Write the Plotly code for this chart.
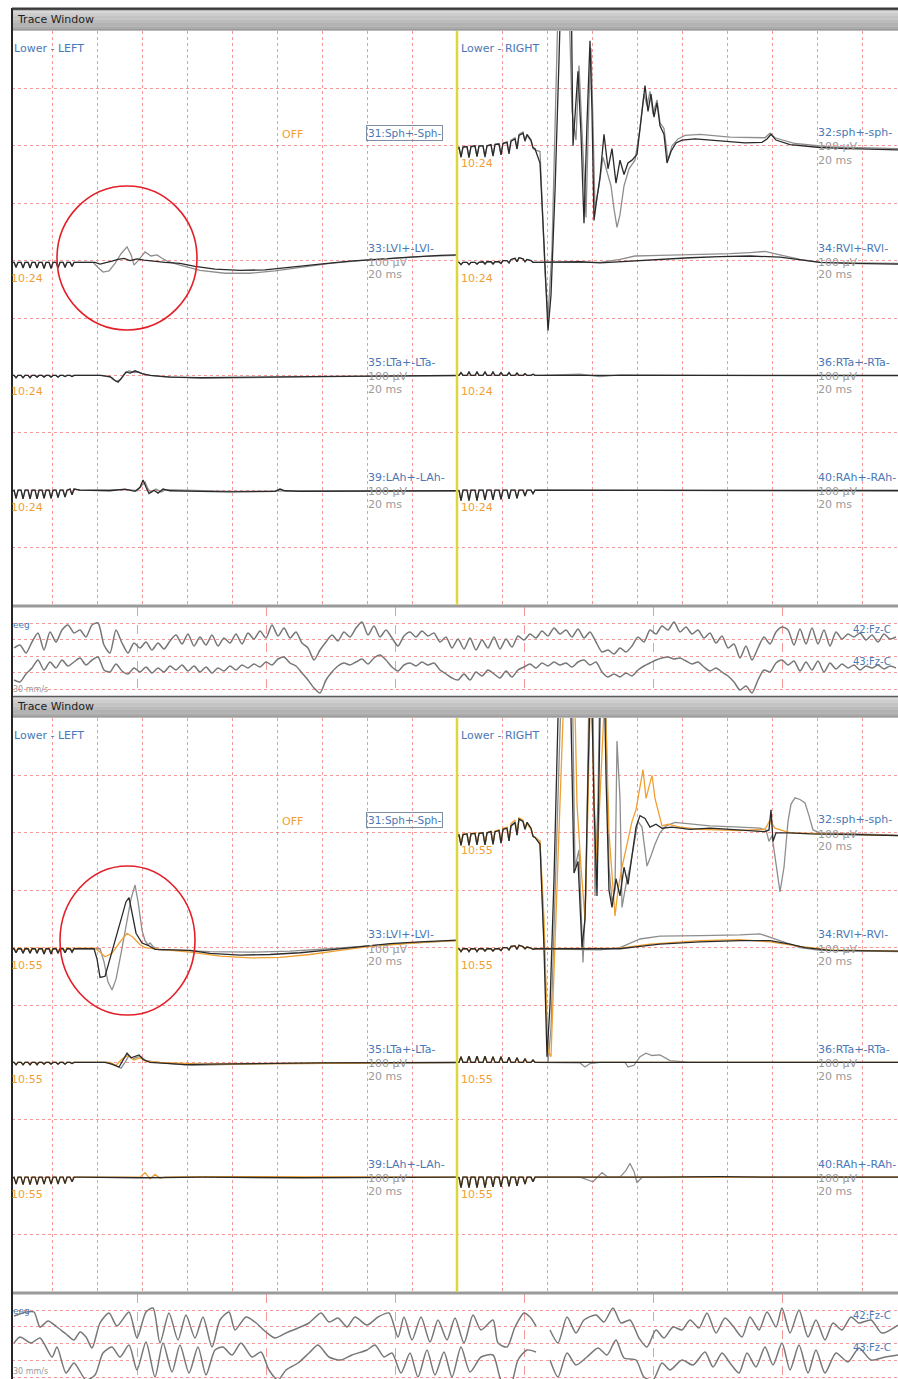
import numpy as np
import plotly.graph_objects as go

# ============================ DATA ============================
FS_KHZ = 2.25      # EMG samples per ms  (sample index -> time in ms)
EEG_FS = 129.0     # EEG samples per second
EEG_N0 = 123       # EEG sample of first 1-s grid line

CLOCK_TOP = "10:24"
CLOCK_BOT = "10:55"
SPH_LEFT = "31:Sph+-Sph-"
LEFT_CH = ["33:LVl+-LVl-", "35:LTa+-LTa-", "39:LAh+-LAh-"]
RIGHT_CH = ["32:sph+-sph-", "34:RVl+-RVl-", "36:RTa+-RTa-", "40:RAh+-RAh-"]
EEG_CH = ["42:Fz-C", "43:Fz-C"]
GAIN = "100 µV"
SWEEP = "20 ms"

# stimulation-train sample indices (right half / left half)
rip_r_n = [1, 2, 4, 6, 10, 12, 14, 18, 20, 22, 26, 28, 30, 34, 36, 38, 42, 44, 46,
           50, 52, 54, 58, 60, 62, 66, 68, 70, 74, 76, 78]
rip_l_n = [-40, -38, -36, -34, -31, -29, -27, -24, -22, -20, -17, -15, -13, -10, -8, -6,
           -3, -1, 1, 4, 6, 8, 11, 13, 15, 18, 20, 22]

# ---------- upper window (10:24), values in µV ----------
sph_t_blk_rip = [-5, -2, -20, -2, -1, -20, -1, 0, -19, 0, 0, -19, 0, 2, -18, 2, 3, -16, 4,
                 6, -14, 8, 12, -6, 18, 22, 8, 20, 10, -3, -5]
sph_t_gry_rip = [-6, -3, -19, -3, -2, -21, -2, -1, -18, -1, 0, -20, 0, 1, -17, 3, 4, -15, 5,
                 7, -12, 10, 14, -4, 20, 24, 10, 18, 8, -5, -7]
sph_t_blk_n = [83, 87, 91, 94, 98, 102, 106, 111, 114, 116, 118, 121, 124, 127, 130, 133, 135,
               137, 140, 143, 147, 151, 155, 159, 163, 167, 171, 175, 180, 184, 188, 191, 194,
               197, 200, 203, 207, 210, 214, 219, 225, 238, 263, 288, 305, 310, 314, 319, 333,
               363, 393, 441]
sph_t_blk_v = [-30, -170, -322, -260, -80, 150, 400, 420, 300, 0, 60, 130, 20, -135, 40, 183, 60,
               -130, -90, -55, 20, -40, -5, -65, -25, -50, -30, -25, -15, 40, 105, 60, 90,
               50, 75, 35, 20, -30, -10, 5, 10, 12, 8, 5, 6, 12, 20, 10, 2,
               -3, -5, -7]
sph_t_gry_n = [83, 88, 91, 95, 99, 103, 108, 112, 115, 119, 122, 125, 129, 132, 134, 136, 138,
               142, 146, 150, 154, 157, 160, 163, 167, 172, 178, 183, 187, 190, 193, 196, 200,
               203, 207, 211, 215, 221, 228, 243, 273, 308, 313, 318, 338, 373, 441]
sph_t_gry_v = [-10, -220, -300, -180, 50, 380, 420, 250, 60, 10, 140, 30, -125, 80, 170, 40, -110,
               -70, -20, -45, -70, -110, -142, -120, -70, -40, -25, 30, 90, 70, 95, 55, 80,
               40, 30, -25, 0, 12, 18, 20, 15, 14, 22, 14, 4, -2, -5]

lvl_lt_blk_rip = [-3, -3, -12, -3, -3, -13, -3, -3, -13, -3, -3, -13, -3, -3, -14, -3,
                  -3, -14, -3, -3, -13, -3, -3, -12, -3, -3, -10, -3]
lvl_lt_gry_rip = [-3, -3, -10, -3, -3, -11, -3, -3, -12, -3, -3, -12, -3, -3, -12, -3,
                  -3, -12, -3, -3, -11, -3, -3, -10, -3, -3, -9, -3]
lvl_lt_blk_n = [25, 43, 48, 54, 60, 66, 72, 78, 85, 92, 100, 113, 128, 143, 163, 188, 213, 238,
                268, 298, 328, 358, 388, 405]
lvl_lt_blk_v = [-3, -3, -6, -4, -1, 2, 4, 0, 3, 1, -1, -3, -5, -10, -15, -17, -16, -12,
                -6, -1, 3, 6, 9, 10]
lvl_lt_gry_n = [25, 41, 46, 51, 57, 63, 69, 75, 79, 82, 86, 93, 99, 105, 110, 115, 128, 148,
                173, 198, 223, 248, 278, 308, 338, 368, 405]
lvl_lt_gry_v = [-3, -3, -12, -20, -18, -5, 12, 24, 10, -8, 0, 15, 8, 10, 4, -1, -8, -17,
                -22, -22, -18, -12, -5, 0, 4, 7, 9]

lvl_rt_rip = [-3, -3, -7, -3, -3, -7, -3, -3, -6, -3, -2, -6, -2, -2, -6, -2, -2, -5, 0,
              0, -4, 2, 4, -2, 5, 3, -2, 2, 0, -3, -3]
lvl_rt_blk_n = [83, 103, 123, 143, 163, 183, 203, 233, 263, 293, 323, 343, 363, 393, 441]
lvl_rt_blk_v = [-3, -3, -2, -4, -2, 0, 3, 5, 7, 8, 6, 2, -3, -5, -6]
lvl_rt_gry_n = [83, 143, 163, 178, 203, 243, 273, 293, 308, 323, 343, 363, 441]
lvl_rt_gry_v = [-3, -3, 2, 8, 9, 10, 12, 14, 16, 10, 2, -3, -5]

lta_lt_rip = [0, 0, -4, 0, 0, -4, 0, 0, -4, 0, 0, -3, 0, 0, -3, 0, 0, -3, 0, 0, -3, 0,
              0, -2, 0, 0, -2, 0]
lta_lt_blk_n = [25, 48, 58, 62, 66, 70, 74, 78, 83, 90, 98, 118, 148, 198, 248, 298, 348, 405]
lta_lt_blk_v = [0, 0, -2, -8, -12, -4, 6, 4, 8, 3, 0, -3, -4, -3, -2, -1, 0, 0]
lta_lt_gry_n = [25, 50, 60, 64, 68, 72, 77, 82, 86, 94, 110, 150, 200, 260, 405]
lta_lt_gry_v = [0, 0, -4, -10, -8, 2, 8, 5, 6, 1, -2, -5, -4, -2, -1]

lta_rt_rip = [0, 0, 5, 0, 0, 6, 0, 0, 6, 0, 0, 6, 0, 0, 6, 0, 0, 5, 0, 0, 5, 0, 0, 4, 0,
              0, 3, 0, 0, 2, 0]
lta_rt_blk_n = [83, 143, 203, 263, 323, 383, 441]
lta_rt_blk_v = [0, -1, 0, -1, 0, -1, 0]
lta_rt_gry_n = [83, 123, 143, 163, 243, 441]
lta_rt_gry_v = [0, 2, -2, 1, 0, -1]

lah_lt_rip = [-2, 0, -14, 0, 0, -15, 0, 0, -15, 0, 0, -15, 0, 0, -14, 0, 0, -14, 0,
              0, -13, 0, 0, -12, 0, 2, -8, 2]
lah_lt_blk_n = [28, 58, 73, 83, 88, 91, 94, 97, 102, 106, 111, 118, 148, 178, 223, 228, 233, 248, 405]
lah_lt_blk_v = [0, -1, 2, -2, 5, 18, 5, -6, 0, -5, 2, -1, -2, -3, -2, 2, -1, -2, -1]
lah_lt_gry_n = [28, 60, 75, 85, 90, 93, 96, 99, 104, 109, 114, 130, 180, 260, 405]
lah_lt_gry_v = [0, 0, 1, -1, 8, 14, 2, -4, 2, -3, 1, 0, -2, -1, -1]

lah_rt_rip = [-2, 0, -18, 0, 0, -18, 0, 0, -18, 0, 0, -17, 0, 0, -17, 0, 0, -16, 0,
              0, -15, 0, 0, -14, 0, 0, -10, 0, 0, -6, 0]
lah_rt_blk_n = [83, 143, 203, 263, 323, 383, 441]
lah_rt_blk_v = [0, -1, 0, -1, 0, -1, -1]
lah_rt_gry_n = [83, 203, 441]
lah_rt_gry_v = [0, 1, 0]

# ---------- lower window (10:55), values in µV ----------
sph_b_blk_rip = [-6, -3, -22, -3, -2, -22, -2, -1, -21, -1, 0, -21, 0, 2, -20, 2, 4, -18, 6,
                 8, -14, 12, 18, -4, 24, 20, 6, 18, 8, -6, -8]
sph_b_org_rip = [-5, -2, -20, -2, -1, -21, -1, 0, -20, 0, 0, -20, 0, 3, -18, 3, 5, -16, 8,
                 10, -12, 16, 22, 0, 26, 22, 8, 16, 6, -6, -8]
sph_b_blk_n = [83, 87, 90, 93, 97, 101, 105, 110, 114, 117, 121, 125, 128, 131, 134, 137, 140,
               143, 146, 149, 152, 155, 159, 163, 167, 171, 175, 179, 183, 188, 193, 199, 205,
               215, 233, 253, 273, 293, 308, 312, 314, 316, 319, 333, 353, 393, 441]
sph_b_blk_v = [-20, -200, -390, -300, -80, 200, 450, 450, 200, -70, -50, -200, -150, 100, 300, 50,
               -110, 200, 400, 100, -100, -130, -80, -110, -60, -90, -40, 10, 30, 25, 10, 15, 8,
               10, 6, 8, 6, 4, 2, 5, 40, -15, 0, 0, -2, -3, -5]
sph_b_gry_n = [83, 88, 91, 94, 98, 102, 106, 111, 115, 118, 122, 126, 129, 132, 135, 138, 141,
               144, 147, 150, 152, 155, 158, 160, 163, 165, 169, 173, 177, 181, 185, 188, 190,
               194, 198, 203, 209, 218, 233, 253, 283, 303, 309, 312, 315, 319, 323, 327, 331,
               334, 338, 343, 348, 352, 356, 363, 393, 441]
sph_b_gry_v = [-15, -230, -400, -340, -100, 150, 350, 450, 300, -60, -30, -226, -100, 250, 400, -110,
               60, 400, 450, 100, -60, -120, -100, 160, 60, -130, -90, -60, -20, 20, 10, -30, -58,
               -40, -20, 0, 12, 18, 15, 12, 10, 8, 5, -15, -5, -50, -103, -60, 20,
               50, 61, 58, 52, 30, 5, 0, -2, -4]
sph_b_org_n = [83, 87, 91, 94, 97, 101, 105, 109, 113, 117, 120, 124, 128, 131, 134, 137, 140,
               144, 148, 152, 155, 158, 161, 165, 170, 175, 179, 183, 186, 189, 192, 195, 198,
               201, 205, 211, 223, 243, 283, 308, 313, 318, 333, 373, 441]
sph_b_org_v = [-15, -150, -380, -390, -250, -50, 150, 350, 450, 300, 50, -60, -150, 50, 300, 60,
               -50, 100, 250, 0, -80, -145, -100, -60, -20, 20, 40, 80, 110, 60, 80, 100, 60,
               40, 12, 15, 10, 6, 4, 6, 22, 8, 0, -2, -5]

lvl_lb_rip = [-2, -2, -9, -2, -2, -10, -2, -2, -10, -2, -2, -10, -2, -2, -11, -2,
              -2, -11, -2, -2, -10, -2, -2, -9, -2, -2, -8, -2]
lvl_lb_org_rip = [-1, -1, -6, -1, -1, -6, -1, -1, -6, -1, -1, -7, -1, -1, -7, -1,
                  -1, -7, -1, -1, -6, -1, -1, -6, -1, -1, -5, -1]
lvl_lb_blk_n = [25, 42, 45, 48, 53, 58, 64, 70, 74, 77, 80, 84, 90, 96, 103, 118, 138, 158,
                188, 218, 248, 278, 308, 338, 368, 405]
lvl_lb_blk_v = [-2, -2, -20, -52, -50, -20, 20, 55, 80, 87, 60, 25, 8, 4, -3, -4, -5, -10,
                -13, -12, -9, -4, 2, 7, 10, 13]
lvl_lb_gry_n = [25, 48, 52, 56, 60, 64, 69, 74, 79, 83, 86, 90, 93, 96, 98, 101, 107, 128,
                158, 198, 238, 278, 318, 358, 405]
lvl_lb_gry_v = [-2, -2, -25, -60, -74, -55, -10, 40, 85, 109, 80, 30, 12, 5, 8, 2, -4, -5,
                -7, -8, -6, -2, 3, 8, 12]
lvl_lb_org_n = [25, 43, 48, 53, 60, 68, 75, 81, 88, 93, 108, 138, 168, 198, 228, 258, 288,
                318, 348, 378, 405]
lvl_lb_org_v = [-1, -1, -8, -16, -10, 10, 25, 18, 5, 0, -3, -8, -15, -18, -17, -12, -5,
                2, 6, 10, 12]

lvl_rb_rip = [-2, -2, -7, -2, -2, -7, -2, -2, -7, -2, -2, -6, -2, -2, -6, -2, -2, -5, 0,
              0, -4, 2, 3, -3, 4, 2, -2, 1, -1, -3, -2]
lvl_rb_blk_n = [83, 123, 143, 163, 183, 203, 243, 283, 313, 333, 348, 373, 441]
lvl_rb_blk_v = [-2, -3, -3, -2, 2, 6, 10, 12, 12, 6, 0, -5, -6]
lvl_rb_gry_n = [83, 143, 163, 183, 203, 243, 283, 303, 313, 328, 343, 363, 441]
lvl_rb_gry_v = [-2, -4, 0, 15, 20, 21, 22, 24, 18, 10, 0, -5, -7]
lvl_rb_org_n = [83, 163, 193, 243, 283, 313, 343, 373, 441]
lvl_rb_org_v = [-2, -1, 6, 12, 14, 10, 2, -4, -6]

lta_lb_rip = [0, 0, -4, 0, 0, -4, 0, 0, -4, 0, 0, -4, 0, 0, -3, 0, 0, -3, 0, 0, -3, 0,
              0, -3, 0, 0, -2, 0]
lta_lb_blk_n = [25, 53, 60, 67, 71, 75, 79, 83, 87, 91, 98, 118, 133, 158, 208, 268, 405]
lta_lb_blk_v = [0, 0, -3, -8, 4, 16, 8, 10, 13, 5, 0, -2, -4, -3, -2, -1, 0]
lta_lb_gry_n = [25, 55, 62, 69, 73, 77, 81, 85, 89, 94, 110, 140, 170, 220, 405]
lta_lb_gry_v = [0, 0, -5, -10, 0, 12, 6, 9, 10, 3, -1, -5, -4, -2, -1]
lta_lb_org_n = [25, 58, 64, 70, 76, 82, 88, 94, 108, 150, 405]
lta_lb_org_v = [0, 0, -5, 6, 12, 4, 8, 2, 0, -3, 0]

lta_rb_rip = [0, 0, 10, 0, 0, 11, 0, 0, 11, 0, 0, 11, 0, 0, 10, 0, 0, 10, 0, 0, 9, 0,
              0, 8, 0, 0, 6, 0, 0, 4, 0]
lta_rb_blk_n = [83, 123, 183, 243, 303, 363, 441]
lta_rb_blk_v = [0, -1, 0, -1, 0, 0, 0]
lta_rb_gry_n = [83, 123, 128, 133, 143, 168, 171, 177, 183, 189, 195, 203, 213, 233, 441]
lta_rb_gry_v = [0, -1, -8, -2, 0, 0, -8, -5, 10, 16, 12, 13, 3, 0, 0]
lta_rb_org_n = [83, 200, 441]
lta_rb_org_v = [0, 1, 0]

lah_lb_rip = [-2, 0, -12, 0, 0, -13, 0, 0, -13, 0, 0, -13, 0, 0, -12, 0, 0, -12, 0,
              0, -12, 0, 0, -11, 0, 0, -8, 0]
lah_lb_blk_n = [25, 90, 150, 250, 405]
lah_lb_blk_v = [0, -1, 0, -1, 0]
lah_lb_org_n = [25, 88, 93, 98, 103, 108, 113, 150, 405]
lah_lb_org_v = [0, 0, 8, -3, 5, -2, 0, 1, 0]

lah_rb_rip = [-2, 0, -18, 0, 0, -18, 0, 0, -18, 0, 0, -18, 0, 0, -17, 0, 0, -17, 0,
              0, -16, 0, 0, -15, 0, 0, -12, 0, 0, -8, 0]
lah_rb_blk_n = [83, 143, 203, 263, 323, 441]
lah_rb_blk_v = [0, -1, 0, 1, 0, 0]
lah_rb_gry_n = [83, 123, 136, 145, 151, 163, 169, 173, 177, 180, 185, 441]
lah_rb_gry_v = [0, 0, -8, 8, 0, 0, 12, 24, 10, -10, 0, 0]
lah_rb_org_n = [83, 441]
lah_rb_org_v = [0, 0]

# ---------- EEG strips (µV) ----------
EEG1_STEP = 6   # samples between readings in the upper strip
eeg1_a = [-8, -5, -13, -2, 7, -10, 8, -2, 10, 15, 7, 10, 3, 15, 17, -5, -13, 10, -3, -13, -3,
          -8, -2, -10, -3, -9, -1, 5, -4, 6, -6,
          3, -5, 5, -6, 2, -3, 6, -4, 7, 1,
          9, 2, 15, 4, 12, 2, 8, -3, -8, -20,
          -10, -2, 5, -1, 8, 3, 12, 18, 5, 14,
          3, 10, 2, -6, 4, 8, 3, 9, 4, 7,
          -2, 3, -8, 1, -9, 2, -10, 0, -8, 3,
          -9, 1, -7, 4, 0, 6, 2, 9, 4, 12,
          6, 10, 3, 11, 2, 8, -2, -12, -10, -14,
          -8, -12, -6, 3, -2, 10, 6, 14, 10, 18,
          8, 13, 6, 10, 2, 7, -3, 4, -8, -4,
          -18, -6, -20, -8, 3, -4, 8, 13, 10, -5,
          11, -4, 12, -4, 10, -6, 8, 1, 6, 3,
          7, 0, 5, -2, 6, 1, 3]
eeg1_b = [-12, -14, -6, 0, 8, -2, 6, 0, 8, 2, 6, 10, 3, 8, 11, -2, -4, 4, -3, -6, 0,
          -4, 1, -5, 0, -4, 2, -2, 3, -3, 2,
          -4, 1, -5, 0, -3, 2, -2, 3, 0, 4,
          1, 6, 3, 9, 11, 5, 2, -5, -12, -20,
          -25, -12, -4, 2, 5, 3, 6, 9, 4, 10,
          13, 8, 1, -3, 3, 5, 2, 6, 3, 5,
          -2, -6, -10, -12, -6, -12, -4, -8, -2, -6,
          -10, -3, -9, -2, 1, 4, 0, 5, 2, 6,
          3, 5, 1, 6, 8, 3, 6, -4, -9, -6,
          -9, -5, -8, -2, 2, 5, 8, 10, 11, 9,
          10, 7, 4, 6, 1, -3, 0, -4, -8, -14,
          -22, -18, -25, -12, -2, -4, 5, 8, 3, 7,
          -3, 6, -2, 7, -4, 5, -1, 4, 0, 3,
          -2, 2, 0, 3, -1, 2, 0]
eeg2_a_n = [0, 12, 20, 26, 34, 43, 52, 60, 66, 72, 78, 86, 95, 103, 115, 123, 132, 139, 146, 155,
            164, 172, 181, 189, 198, 206, 215, 221, 232, 241, 252, 261, 272, 284, 295, 307, 315,
            324, 333, 341, 353, 364, 375, 384, 390, 398, 407, 416, 424, 433, 441, 450, 459, 467,
            479, 484, 493, 501, 510, 516, 522, 529, 536, 544, 553, 562, 570, 582, 590, 599, 607,
            616, 625, 633, 642, 650, 659, 668, 676, 685, 693, 702, 711, 719, 728, 736, 745, 753,
            762, 768, 776, 785, 794, 802, 811, 819, 828, 837, 845, 857, 868, 884]
eeg2_a_v = [10, 14, 14, -1, 5, -1, -8, -14, -6, -11, -22, 3, 13, 0, 14, -12, 14, 18, -17, 13,
            -14, 11, -12, 9, -21, 6, 14, -4, 9, 4, -6, -12, -7, -2, 3, 13, 4,
            8, -1, 9, 1, 9, 13, -11, 9, -14, 9, -16, 6, -14, 8, -17, 11, -4,
            6, -17, -21, -1, 13, 9, 0, None, -4, -17, 9, -7, 6, 11, 4, 18, 3,
            6, -12, -21, -4, -12, -1, -4, 6, -2, 13, -7, 8, 0, -11, 9, -4, 14,
            -1, 18, -7, 16, -11, 6, -14, 3, -4, 9, 3, 6, -7, 1]
eeg2_b_n = [0, 6, 17, 26, 38, 43, 52, 60, 72, 81, 89, 98, 106, 115, 123, 132, 141, 149, 158, 166,
            175, 184, 192, 201, 209, 218, 227, 238, 247, 255, 264, 272, 284, 295, 304, 315, 327,
            338, 353, 361, 370, 378, 387, 396, 404, 413, 421, 430, 438, 447, 456, 467, 479, 487,
            496, 504, 513, 522, 529, 536, 544, 553, 562, 573, 584, 593, 602, 610, 622, 630, 639,
            648, 656, 668, 679, 691, 699, 708, 716, 725, 733, 742, 751, 759, 768, 776, 785, 794,
            802, 811, 822, 834, 845, 857, 871, 884]
eeg2_b_v = [14, 20, 14, 19, 0, 10, -16, -6, -23, -18, 4, 10, 0, 12, -13, 15, -20, 14, -15, 12,
            -16, 10, -18, 7, 10, 2, 14, 0, 5, -13, -23, -13, -6, 4, 12, 0, -3,
            2, 7, 12, 0, 4, -16, 4, -20, 7, -18, 5, -20, 10, -15, 0, 2, -23,
            -30, -3, 7, 5, None, -3, -20, 4, -8, 0, 9, 2, 17, -1, -3, -20, -23,
            -6, -13, -3, -8, 5, -10, 4, -6, -16, 4, -10, 10, -8, 14, -13, 12, -16,
            7, -16, 4, -5, 9, -3, 0, 2]

# ============================ FIGURE ============================
W, H = 898, 1379
GRID = "rgba(240,118,118,0.75)"
BLK, GRY, ORG = "#2a2a2a", "#8e8e8e", "#f0a030"
BLUE, ORANGE, GRAYT = "#4a78b6", "#f0a033", "#9a9a9a"
FONT = "DejaVu Sans, Verdana, sans-serif"
FS_LAB = 11


def px_x(p):
    return p / W


def px_y(p):
    return 1 - p / H


layout = dict(width=W, height=H, margin=dict(l=0, r=0, t=0, b=0),
              paper_bgcolor="white", plot_bgcolor="rgba(0,0,0,0)", showlegend=False)
counts = {"x": 0, "y": 0}


def new_axis(kind, spec):
    counts[kind] += 1
    i = counts[kind]
    sfx = "" if i == 1 else str(i)
    layout[f"{kind}axis{sfx}"] = spec
    return kind + sfx


def key(ax):
    return ax[0] + "axis" + ax[1:]


GRID_AX = dict(showgrid=True, gridcolor=GRID, gridwidth=1, zeroline=False, showline=False,
               ticks="", showticklabels=False, fixedrange=True, tickmode="linear")
HID = dict(visible=False, fixedrange=True, anchor="free", position=0)

fig = go.Figure()


def blank(xa, ya):
    fig.add_trace(go.Scatter(x=[None], y=[None], xaxis=xa, yaxis=ya, mode="lines",
                             hoverinfo="skip", showlegend=False))


PANELS = [dict(top=31, bot=605), dict(top=718, bot=1292)]
panel_axes = []
for P in PANELS:
    dom = [px_y(P["bot"]), px_y(P["top"])]
    gx = new_axis("x", dict(domain=[px_x(12), 1], range=[-17.8, 376.0], tick0=0, dtick=20,
                            griddash="dot", **GRID_AX))
    gy = new_axis("y", dict(domain=dom, range=[0, 10], tick0=0, dtick=1, griddash="dot", **GRID_AX))
    layout[key(gx)]["anchor"] = gy
    layout[key(gy)]["anchor"] = gx
    blank(gx, gy)
    xl = new_axis("x", dict(domain=[px_x(12), px_x(457)], range=[-17.8, 180], **HID))
    xr = new_axis("x", dict(domain=[px_x(457), 1], range=[0, 196], **HID))
    ych = [new_axis("y", dict(domain=dom, range=[-(8 - 2 * k) * 100, (2 + 2 * k) * 100], **HID))
           for k in range(4)]
    panel_axes.append((xl, xr, ych))

STRIPS = [dict(top=607, bot=695, t0=6, dt=16.4, ra=[-55, 33], rb=[-27, 61]),
          dict(top=1294, bot=1379, t0=2, dt=16.75, ra=[-53, 32], rb=[-22, 63])]
strip_axes = []
for S in STRIPS:
    dom = [px_y(S["bot"]), px_y(S["top"])]
    rx = [-2 / EEG_FS, 884 / EEG_FS]
    gx = new_axis("x", dict(domain=[px_x(12), 1], range=rx, tick0=EEG_N0 / EEG_FS, dtick=1,
                            griddash="dash", **GRID_AX))
    gy = new_axis("y", dict(domain=dom, range=[0, S["bot"] - S["top"]], tick0=S["t0"], dtick=S["dt"],
                            griddash="dot", **GRID_AX))
    layout[key(gx)]["anchor"] = gy
    layout[key(gy)]["anchor"] = gx
    blank(gx, gy)
    tx = new_axis("x", dict(domain=[px_x(12), 1], range=rx, **HID))
    ya = new_axis("y", dict(domain=dom, range=S["ra"], **HID))
    yb = new_axis("y", dict(domain=dom, range=S["rb"], **HID))
    strip_axes.append((tx, ya, yb))


def emg(n, v, xa, ya, color, width=1.3):
    assert len(n) == len(v), (len(n), len(v))
    t = np.asarray(n, dtype=float) / FS_KHZ
    fig.add_trace(go.Scatter(x=t, y=v, mode="lines", line=dict(color=color, width=width),
                             xaxis=xa, yaxis=ya, hoverinfo="skip", showlegend=False))


# upper window
xl, xr, yc = panel_axes[0]
emg(rip_r_n + sph_t_gry_n, sph_t_gry_rip + sph_t_gry_v, xr, yc[0], GRY)
emg(rip_r_n + sph_t_blk_n, sph_t_blk_rip + sph_t_blk_v, xr, yc[0], BLK)
emg(rip_l_n + lvl_lt_gry_n, lvl_lt_gry_rip + lvl_lt_gry_v, xl, yc[1], GRY)
emg(rip_l_n + lvl_lt_blk_n, lvl_lt_blk_rip + lvl_lt_blk_v, xl, yc[1], BLK)
emg(rip_r_n + lvl_rt_gry_n, lvl_rt_rip + lvl_rt_gry_v, xr, yc[1], GRY)
emg(rip_r_n + lvl_rt_blk_n, lvl_rt_rip + lvl_rt_blk_v, xr, yc[1], BLK)
emg(rip_l_n + lta_lt_gry_n, lta_lt_rip + lta_lt_gry_v, xl, yc[2], GRY)
emg(rip_l_n + lta_lt_blk_n, lta_lt_rip + lta_lt_blk_v, xl, yc[2], BLK)
emg(rip_r_n + lta_rt_gry_n, lta_rt_rip + lta_rt_gry_v, xr, yc[2], GRY)
emg(rip_r_n + lta_rt_blk_n, lta_rt_rip + lta_rt_blk_v, xr, yc[2], BLK)
emg(rip_l_n + lah_lt_gry_n, lah_lt_rip + lah_lt_gry_v, xl, yc[3], GRY)
emg(rip_l_n + lah_lt_blk_n, lah_lt_rip + lah_lt_blk_v, xl, yc[3], BLK)
emg(rip_r_n + lah_rt_gry_n, lah_rt_rip + lah_rt_gry_v, xr, yc[3], GRY)
emg(rip_r_n + lah_rt_blk_n, lah_rt_rip + lah_rt_blk_v, xr, yc[3], BLK)

# lower window
xl, xr, yc = panel_axes[1]
emg(rip_r_n + sph_b_gry_n, sph_b_blk_rip + sph_b_gry_v, xr, yc[0], GRY)
emg(rip_r_n + sph_b_org_n, sph_b_org_rip + sph_b_org_v, xr, yc[0], ORG)
emg(rip_r_n + sph_b_blk_n, sph_b_blk_rip + sph_b_blk_v, xr, yc[0], BLK)
emg(rip_l_n + lvl_lb_gry_n, lvl_lb_rip + lvl_lb_gry_v, xl, yc[1], GRY)
emg(rip_l_n + lvl_lb_org_n, lvl_lb_org_rip + lvl_lb_org_v, xl, yc[1], ORG)
emg(rip_l_n + lvl_lb_blk_n, lvl_lb_rip + lvl_lb_blk_v, xl, yc[1], BLK)
emg(rip_r_n + lvl_rb_gry_n, lvl_rb_rip + lvl_rb_gry_v, xr, yc[1], GRY)
emg(rip_r_n + lvl_rb_org_n, lvl_rb_rip + lvl_rb_org_v, xr, yc[1], ORG)
emg(rip_r_n + lvl_rb_blk_n, lvl_rb_rip + lvl_rb_blk_v, xr, yc[1], BLK)
emg(rip_l_n + lta_lb_gry_n, lta_lb_rip + lta_lb_gry_v, xl, yc[2], GRY)
emg(rip_l_n + lta_lb_org_n, lta_lb_rip + lta_lb_org_v, xl, yc[2], ORG)
emg(rip_l_n + lta_lb_blk_n, lta_lb_rip + lta_lb_blk_v, xl, yc[2], BLK)
emg(rip_r_n + lta_rb_gry_n, lta_rb_rip + lta_rb_gry_v, xr, yc[2], GRY)
emg(rip_r_n + lta_rb_org_n, lta_rb_rip + lta_rb_org_v, xr, yc[2], ORG)
emg(rip_r_n + lta_rb_blk_n, lta_rb_rip + lta_rb_blk_v, xr, yc[2], BLK)
emg(rip_l_n + lah_lb_org_n, lah_lb_rip + lah_lb_org_v, xl, yc[3], ORG)
emg(rip_l_n + lah_lb_blk_n, lah_lb_rip + lah_lb_blk_v, xl, yc[3], BLK)
emg(rip_r_n + lah_rb_gry_n, lah_rb_rip + lah_rb_gry_v, xr, yc[3], GRY)
emg(rip_r_n + lah_rb_org_n, lah_rb_rip + lah_rb_org_v, xr, yc[3], ORG)
emg(rip_r_n + lah_rb_blk_n, lah_rb_rip + lah_rb_blk_v, xr, yc[3], BLK)


def eeg(n, v, xa, ya):
    assert len(n) == len(v), (len(n), len(v))
    t = np.asarray(n, dtype=float) / EEG_FS
    fig.add_trace(go.Scatter(x=t, y=v, mode="lines",
                             line=dict(color="#777777", width=1.5, shape="spline", smoothing=0.7),
                             xaxis=xa, yaxis=ya, hoverinfo="skip", showlegend=False,
                             connectgaps=False))


tx, ya, yb = strip_axes[0]
eeg(list(range(0, EEG1_STEP * len(eeg1_a), EEG1_STEP)), eeg1_a, tx, ya)
eeg(list(range(0, EEG1_STEP * len(eeg1_b), EEG1_STEP)), eeg1_b, tx, yb)
tx, ya, yb = strip_axes[1]
eeg(eeg2_a_n, eeg2_a_v, tx, ya)
eeg(eeg2_b_n, eeg2_b_v, tx, yb)

# ---------------- chrome: shapes ----------------
shapes = []


def rect(x0, y0, x1, y1, fill, layer="above"):
    shapes.append(dict(type="rect", xref="paper", yref="paper", x0=px_x(x0), x1=px_x(x1),
                       y0=px_y(y1), y1=px_y(y0), fillcolor=fill, line=dict(width=0), layer=layer))


def hline(y, x0, x1, color, width):
    shapes.append(dict(type="line", xref="paper", yref="paper", x0=px_x(x0), x1=px_x(x1),
                       y0=px_y(y), y1=px_y(y), line=dict(color=color, width=width)))


def vline(x, y0, y1, color, width):
    shapes.append(dict(type="line", xref="paper", yref="paper", x0=px_x(x), x1=px_x(x),
                       y0=px_y(y0), y1=px_y(y1), line=dict(color=color, width=width)))


BAR_COLS = ["#d6d6d6", "#cdcdcd", "#c4c4c4", "#bbbbbb", "#b2b2b2", "#aaaaaa"]
for (b0, b1) in [(9, 30), (696, 717)]:
    h = (b1 - b0) / len(BAR_COLS)
    for i, c in enumerate(BAR_COLS):
        rect(12, b0 + i * h, 898, b0 + (i + 1) * h + 0.3, c)
    hline(b0 + 0.5, 12, 898, "#5a5a5a", 1.5)
    hline(b1, 12, 898, "#8c8c8c", 1)

# separators between trace windows and EEG strips
hline(606, 12, 898, "#9a9a9a", 3)
hline(1293, 12, 898, "#9a9a9a", 3)
# yellow left/right divider
vline(457, 31, 605, "#dcd640", 2.5)
vline(457, 718, 1292, "#dcd640", 2.5)
# outer frame
vline(12, 8, 1379, "#262626", 2)
hline(8.5, 12, 898, "#3a3a3a", 2)

# red circles
for (cx0, cy0, cx1, cy1) in [(57, 186, 197, 330), (60, 866, 195, 1015)]:
    shapes.append(dict(type="circle", xref="paper", yref="paper", x0=px_x(cx0), x1=px_x(cx1),
                       y0=px_y(cy1), y1=px_y(cy0), line=dict(color="#e3202a", width=1.6)))

# ---------------- text ----------------
ann = []


def label(text, x, y, color, size=FS_LAB, **kw):
    ann.append(dict(text=text, x=px_x(x), y=px_y(y), xref="paper", yref="paper",
                    xanchor="left", yanchor="middle", showarrow=False,
                    font=dict(family=FONT, size=size, color=color), **kw))


for dy, clock in [(0, CLOCK_TOP), (687, CLOCK_BOT)]:
    label("Trace Window", 15, 19.5 + dy, "#1e1e1e", 11)
    label("Lower - LEFT", 12, 48 + dy, BLUE)
    label("Lower - RIGHT", 459, 48 + dy, BLUE)
    label("OFF", 280, 134 + dy, ORANGE)
    label(SPH_LEFT, 366, 133 + dy, BLUE, size=10.5, bordercolor="#7d8ea4", borderwidth=1, borderpad=1)
    label(clock, 459, 163 + dy, ORANGE)
    for k, y0 in enumerate([133, 248, 362, 477]):
        label(RIGHT_CH[k], 816, y0 + dy, BLUE)
        label(GAIN, 816, y0 + 14 + dy, GRAYT)
        label(SWEEP, 816, y0 + 27 + dy, GRAYT)
        if k > 0:
            label(LEFT_CH[k - 1], 366, y0 + dy, BLUE)
            label(GAIN, 366, y0 + 14 + dy, GRAYT)
            label(SWEEP, 366, y0 + 27 + dy, GRAYT)
            label(clock, 9, y0 + 30 + dy, ORANGE)
            label(clock, 459, y0 + 30 + dy, ORANGE)

for dy, ylow in [(0, 689), (686, 1371)]:
    label("eeg", 11, 625 + dy, BLUE, 9)
    label("30 mm/s", 11, ylow, GRAYT, 8)
    label(EEG_CH[0], 851, 629 + dy, BLUE, 10)
    label(EEG_CH[1], 851, 661 + dy, BLUE, 10)

layout["shapes"] = shapes
layout["annotations"] = ann
fig.update_layout(**layout)
fig.write_html("out.html",
               config={"displayModeBar": False, "staticPlot": True},
               post_script="document.body.style.margin='0';document.body.style.padding='0';"
                           "document.documentElement.style.overflow='hidden';")
